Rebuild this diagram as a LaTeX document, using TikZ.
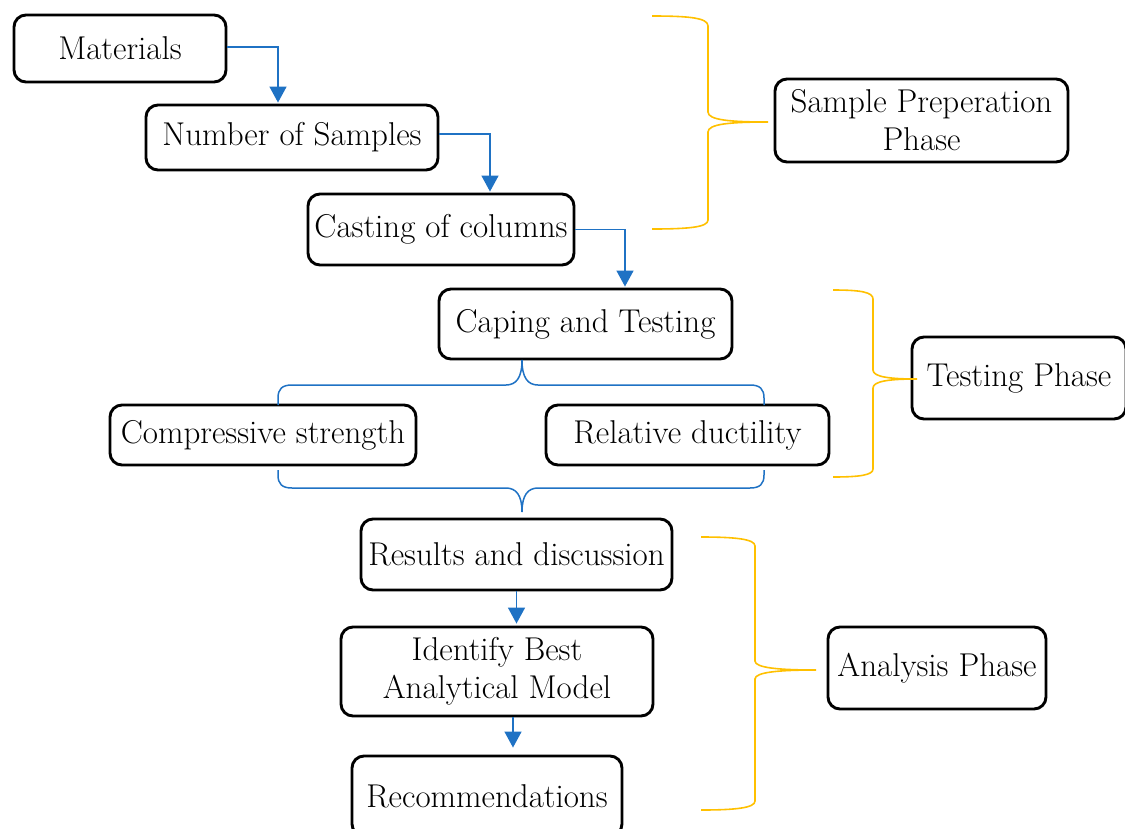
\documentclass[tikz,border=0pt]{standalone}
\usepackage{fontspec}
\usetikzlibrary{arrows.meta}
\definecolor{flowblue}{HTML}{1F72C4}
\definecolor{braceyellow}{HTML}{FFC000}
\begin{document}
\begin{tikzpicture}[x=1pt,y=-1pt,
  box/.style={draw=black,line width=2.9pt,rounded corners=12pt,inner sep=0pt,
    align=center,font=\fontsize{33}{38}\selectfont},
  arr/.style={draw=flowblue,line width=1.5pt,-{Triangle[width=17pt,length=16pt]}},
  bluebrace/.style={draw=flowblue,line width=1.5pt},
  ybrace/.style={draw=braceyellow,line width=1.6pt}]
\useasboundingbox (0,0) rectangle (1125,828);
% process boxes
\node[box,minimum width=212pt,minimum height=67pt] (mat) at (120,48.5) {Materials};
\node[box,minimum width=292pt,minimum height=65pt] (num) at (292,137.5) {Number of Samples};
\node[box,minimum width=266pt,minimum height=71pt] (cast) at (441,229.5) {Casting of columns};
\node[box,minimum width=293pt,minimum height=70pt] (cap) at (585.5,324) {Caping and Testing};
\node[box,minimum width=306pt,minimum height=60pt] (comp) at (263,435) {Compressive strength};
\node[box,minimum width=283pt,minimum height=60pt] (rel) at (687.5,435) {Relative ductility};
\node[box,minimum width=311pt,minimum height=71pt] (res) at (516.5,554.5) {Results and discussion};
\node[box,minimum width=312pt,minimum height=89pt] (ide) at (497,671.5) {Identify Best\\Analytical Model};
\node[box,minimum width=270pt,minimum height=80pt] (rec) at (487,796) {Recommendations};
% phase boxes
\node[box,minimum width=293pt,minimum height=83pt] (sp) at (921.5,120.5) {Sample Preperation\\Phase};
\node[box,minimum width=214pt,minimum height=82pt] (tp) at (1019,378) {Testing Phase};
\node[box,minimum width=218pt,minimum height=82pt] (ap) at (937,668) {Analysis Phase};
% arrows
\draw[arr] ([yshift=1.5pt]mat.east) -| ([xshift=-14pt,yshift=1pt]num.north);
\draw[arr] ([yshift=3.5pt]num.east) -| ([xshift=49pt,yshift=1pt]cast.north);
\draw[arr] (cast.east) -| ([xshift=39.5pt,yshift=1pt]cap.north);
\draw[arr] (res.south) -- ([yshift=2pt]res.south |- ide.north);
\draw[arr] ([xshift=16pt]ide.south) -- ([xshift=16pt,yshift=7pt]ide.south |- rec.north);
% blue braces
\coordinate (topTip) at (522,360);
\coordinate (botTip) at (522,512);
\draw[bluebrace] (278,405) -- (278,398) .. controls (278,389) and (282,385) .. (292,385)
  -- (506,385) .. controls (516,385) and (522,378) .. (topTip)
  .. controls (522,378) and (528,385) .. (538,385) -- (750,385)
  .. controls (760,385) and (764,389) .. (764,398) -- (764,405);
\draw[bluebrace] (278,470) -- (278,475) .. controls (278,484) and (282,488) .. (292,488)
  -- (506,488) .. controls (516,488) and (522,495) .. (botTip)
  .. controls (522,495) and (528,488) .. (538,488) -- (750,488)
  .. controls (760,488) and (764,484) .. (764,475) -- (764,470);
% yellow braces
\coordinate (spTip) at (768,122);
\coordinate (tpTip) at (917,379);
\coordinate (apTip) at (816,670);
\draw[ybrace] (652,16) .. controls (690,16) and (708,18) .. (708,26) -- (708,112)
  .. controls (708,120) and (730,122) .. (spTip)
  .. controls (730,122) and (708,124) .. (708,132) -- (708,220)
  .. controls (708,227) and (690,229) .. (652,229);
\draw[ybrace] (833,290) .. controls (860,290) and (873,292) .. (873,299) -- (873,370)
  .. controls (873,377) and (890,379) .. (tpTip)
  .. controls (890,379) and (873,381) .. (873,388) -- (873,469)
  .. controls (873,475) and (860,477) .. (833,477);
\draw[ybrace] (701,537) .. controls (735,537) and (755,539) .. (755,546) -- (755,661)
  .. controls (755,668) and (780,670) .. (apTip)
  .. controls (780,670) and (755,672) .. (755,679) -- (755,801)
  .. controls (755,808) and (735,810) .. (701,810);
\end{tikzpicture}
\end{document}
